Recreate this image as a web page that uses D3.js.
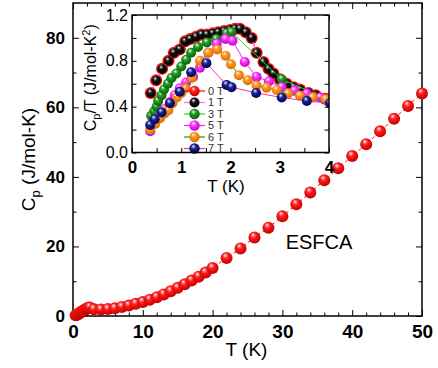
<!DOCTYPE html>
<html>
<head>
<meta charset="utf-8">
<script src="https://cdn.jsdelivr.net/npm/d3@7"></script>
<style>
  body { margin: 0; background: #fff; }
  text { font-family: "Liberation Sans", Arial, sans-serif; }
</style>
</head>
<body>
<div id="chart-area"></div>
<script>
const WIDTH = 438;
const HEIGHT = 368;
const MAIN = {left: 73, right: 422, top: 3, bottom: 316};
const INSET = {left: 132, right: 329, top: 15, bottom: 152.5};

// main panel: Cp vs T (zero field)
const mainT = [0.38, 0.49, 0.61, 0.74, 0.85, 0.97, 1.08, 1.18, 1.30, 1.41, 1.52, 1.64, 1.75, 1.87,
  1.99, 2.09, 2.19, 2.31, 2.45, 3, 4, 5, 6, 7, 8, 9, 10, 11, 12, 13, 14, 15, 16, 17, 18, 19, 20,
  22, 24, 26, 28, 30, 32, 34, 36, 38, 40, 42, 44, 46, 48, 50];
const mainCp = [0.20, 0.31, 0.45, 0.59, 0.74, 0.87, 1.05, 1.17, 1.31, 1.45, 1.57, 1.71, 1.84, 1.98,
  2.13, 2.26, 2.37, 2.43, 2.40, 1.95, 1.85, 2.0, 2.2, 2.6, 3.0, 3.5, 4.0, 4.7, 5.4, 6.2, 7.1, 8.1, 9.1, 10.2, 11.3, 12.5, 13.8,
  16.7, 19.4, 22.6, 25.4, 28.7, 32.1, 35.5, 39.0, 42.5, 46.0, 49.4, 53.1, 56.7, 60.4, 64.0];

const mainXTicks = [0, 10, 20, 30, 40, 50];
const mainYTicks = [0, 20, 40, 60, 80];
const insetXTicks = [0, 1, 2, 3, 4];
const insetYTicks = [0, 0.4, 0.8, 1.2];

// inset: Cp/T vs T for each field
const fieldLabels = ['0 T', '1 T', '3 T', '5 T', '6 T', '7 T'];

const t0T = [0.38, 0.49, 0.61, 0.74, 0.85, 0.97, 1.08, 1.18, 1.30, 1.41, 1.52, 1.64, 1.75, 1.87, 1.99,
  2.09, 2.19, 2.31, 2.43, 2.53, 2.67, 2.77, 2.87, 3.00, 3.14, 3.28, 3.41, 3.58, 3.73, 3.92, 4.05];
const cp0T = [0.52, 0.63, 0.73, 0.80, 0.87, 0.90, 0.97, 0.99, 1.01, 1.03, 1.03, 1.04, 1.05, 1.06, 1.07,
  1.08, 1.08, 1.05, 1.00, 0.87, 0.79, 0.73, 0.69, 0.64, 0.60, 0.57, 0.55, 0.52, 0.50, 0.47, 0.44];

const t1T = [0.38, 0.49, 0.61, 0.74, 0.85, 0.97, 1.08, 1.18, 1.30, 1.41, 1.52, 1.64, 1.75, 1.87, 1.99,
  2.09, 2.19, 2.31, 2.43, 2.53, 2.67, 2.77, 2.87, 3.00, 3.14, 3.28, 3.41, 3.58, 3.73, 3.92, 4.05];
const cp1T = [0.52, 0.63, 0.73, 0.80, 0.87, 0.90, 0.97, 0.99, 1.01, 1.03, 1.03, 1.04, 1.05, 1.06, 1.07,
  1.08, 1.08, 1.05, 1.00, 0.87, 0.79, 0.73, 0.69, 0.64, 0.60, 0.57, 0.55, 0.52, 0.50, 0.47, 0.44];

const t3T = [0.39, 0.45, 0.50, 0.53, 0.60, 0.65, 0.73, 0.80, 0.90, 1.00, 1.10, 1.20, 1.34, 1.52, 1.71,
  1.92, 2.02, 3.04, 4.05];
const cp3T = [0.32, 0.36, 0.40, 0.45, 0.50, 0.55, 0.60, 0.65, 0.69, 0.75, 0.81, 0.87, 0.92, 0.96, 0.99,
  1.04, 1.05, 0.64, 0.45];

const t5T = [0.37, 0.47, 0.57, 0.67, 0.77, 0.87, 0.97, 1.10, 1.24, 1.38, 1.55, 1.72, 1.90, 2.04, 2.29,
  2.53, 2.78, 3.04, 3.30, 3.55, 3.82];
const cp5T = [0.185, 0.26, 0.33, 0.38, 0.44, 0.50, 0.56, 0.61, 0.66, 0.74, 0.87, 0.95, 0.99, 0.975, 0.79,
  0.66, 0.62, 0.57, 0.54, 0.515, 0.48];

const t6T = [0.37, 0.47, 0.57, 0.66, 0.74, 0.82, 0.91, 1.00, 1.08, 1.21, 1.38, 1.55, 1.73, 1.90, 2.01,
  2.17, 2.35, 2.53, 2.73, 2.94, 3.17, 3.41, 3.67, 3.93];
const cp6T = [0.20, 0.25, 0.30, 0.34, 0.37, 0.43, 0.48, 0.52, 0.56, 0.65, 0.80, 0.87, 0.90, 0.845, 0.77,
  0.675, 0.63, 0.585, 0.565, 0.545, 0.515, 0.495, 0.48, 0.465];

const t7T = [0.37, 0.46, 0.60, 0.77, 0.97, 1.20, 1.51, 1.92, 2.02, 2.52, 3.04, 3.55, 4.02];
const cp7T = [0.24, 0.29, 0.35, 0.43, 0.53, 0.70, 0.78, 0.59, 0.57, 0.52, 0.48, 0.45, 0.43];

// marker fill, marker edge, connecting line
const STYLES = [
  {ball: '#ff1a1a', dark: '#c00000', line: '#ff0000', r: 6},
  {ball: '#111111', dark: '#000000', line: '#ff66ff', r: 4.6},
  {ball: '#1f9a1f', dark: '#0a5c0a', line: '#22dd22', r: 5},
  {ball: '#ff33ff', dark: '#c000c0', line: '#ff22ff', r: 5},
  {ball: '#ff9422', dark: '#d86a00', line: '#1a9a1a', r: 5},
  {ball: '#1a2290', dark: '#000050', line: '#ff3399', r: 5},
];

main();

function main() {
  const svg = d3.select('#chart-area').append('svg')
    .attr('width', WIDTH)
    .attr('height', HEIGHT);
  const defs = svg.append('defs');
  STYLES.forEach((s, i) => addBall(defs, `ball${ i }`, s.ball, s.dark));
  showMain(svg);
  showInset(svg, defs);
}

function addBall(defs, id, base, dark) {
  const g = defs.append('radialGradient')
    .attr('id', id)
    .attr('cx', '45%').attr('cy', '40%').attr('r', '62%')
    .attr('fx', '38%').attr('fy', '28%');
  g.append('stop').attr('offset', '0%').attr('stop-color', '#ffffff');
  g.append('stop').attr('offset', '18%').attr('stop-color', d3.interpolateRgb(base, '#fff')(0.45));
  g.append('stop').attr('offset', '40%').attr('stop-color', base);
  g.append('stop').attr('offset', '100%').attr('stop-color', dark);
}

function frameAxes(svg, box, x, y, opts) {
  const g = svg.append('g');
  const inner = opts.tick;
  const minor = opts.minorTick;

  const addAxis = (axis, transform, values, size, fmt, cls) => {
    const a = g.append('g')
      .attr('class', cls)
      .attr('transform', transform)
      .call(axis.tickValues(values).tickSize(-size).tickSizeOuter(0).tickFormat(fmt));
    a.select('.domain').remove();
    a.selectAll('line').attr('stroke', '#000').attr('stroke-width', 1);
    return a;
  };
  const none = () => '';

  const xb = addAxis(d3.axisBottom(x).tickPadding(opts.xPad), `translate(0,${ box.bottom })`, opts.xTicks, inner, opts.xFmt, 'x-axis');
  addAxis(d3.axisBottom(x), `translate(0,${ box.bottom })`, opts.xMinor, minor, none, 'x-minor');
  addAxis(d3.axisTop(x), `translate(0,${ box.top })`, opts.xTicks, inner, none, 'x-top');
  addAxis(d3.axisTop(x), `translate(0,${ box.top })`, opts.xMinor, minor, none, 'x-top-minor');
  const yl = addAxis(d3.axisLeft(y).tickPadding(opts.yPad), `translate(${ box.left },0)`, opts.yTicks, inner, opts.yFmt, 'y-axis');
  addAxis(d3.axisLeft(y), `translate(${ box.left },0)`, opts.yMinor, minor, none, 'y-minor');
  addAxis(d3.axisRight(y), `translate(${ box.right },0)`, opts.yTicks, inner, none, 'y-right');
  addAxis(d3.axisRight(y), `translate(${ box.right },0)`, opts.yMinor, minor, none, 'y-right-minor');

  xb.selectAll('text')
    .attr('fill', '#000')
    .style('font-size', opts.xFont + 'px')
    .style('font-weight', 'bold');
  yl.selectAll('text')
    .attr('fill', '#000')
    .style('font-size', opts.yFont + 'px')
    .style('font-weight', opts.yWeight);

  g.append('rect')
    .attr('x', box.left)
    .attr('y', box.top)
    .attr('width', box.right - box.left)
    .attr('height', box.bottom - box.top)
    .attr('fill', 'none')
    .attr('stroke', '#000')
    .attr('stroke-width', 1.5);
}

function showMain(svg) {
  const x = d3.scaleLinear().domain([0, 50]).range([MAIN.left, MAIN.right]);
  const y = d3.scaleLinear().domain([0, 90]).range([MAIN.bottom, MAIN.top]);

  frameAxes(svg, MAIN, x, y, {
    tick: 6, minorTick: 3.5,
    xTicks: mainXTicks, xMinor: d3.range(0, 51, 2).filter(v => v % 10),
    yTicks: mainYTicks, yMinor: [10, 30, 50, 70],
    xPad: 9, yPad: 8, xFont: 19, yFont: 17, yWeight: 'bold',
    xFmt: d3.format('d'), yFmt: d3.format('d'),
  });

  const data = mainT.map((t, i) => ({t, cp: mainCp[i]}));
  const line = d3.line().x(d => x(d.t)).y(d => y(d.cp));

  svg.append('path')
    .datum(data)
    .attr('d', line)
    .attr('fill', 'none')
    .attr('stroke', '#ff0000')
    .attr('stroke-width', 1)
    .attr('stroke-dasharray', '3,3');

  svg.append('g')
    .selectAll('circle')
    .data(data)
    .enter()
    .append('circle')
    .attr('cx', d => x(d.t))
    .attr('cy', d => y(d.cp))
    .attr('r', 6)
    .attr('fill', 'url(#ball0)');

  svg.append('text')
    .attr('x', (MAIN.left + MAIN.right) / 2 - 1)
    .attr('y', 356)
    .attr('text-anchor', 'middle')
    .style('font-size', '19px')
    .text('T (K)');

  const yl = svg.append('text')
    .attr('transform', `translate(35, ${ (MAIN.top + MAIN.bottom) / 2 }) rotate(-90)`)
    .attr('text-anchor', 'middle')
    .style('font-size', '19px');
  yl.append('tspan').text('C');
  yl.append('tspan').attr('dy', 5).style('font-size', '13px').text('p');
  yl.append('tspan').attr('dy', -5).text(' (J/mol-K)');

  svg.append('text')
    .attr('x', 319)
    .attr('y', 249)
    .attr('text-anchor', 'middle')
    .style('font-size', '20px')
    .text('ESFCA');
}

function showInset(svg, defs) {
  const x = d3.scaleLinear().domain([0, 4]).range([INSET.left, INSET.right]);
  const y = d3.scaleLinear().domain([0, 1.2]).range([INSET.bottom, INSET.top]);

  defs.append('clipPath')
    .attr('id', 'inset-clip')
    .append('rect')
    .attr('x', INSET.left)
    .attr('y', INSET.top)
    .attr('width', INSET.right - INSET.left)
    .attr('height', INSET.bottom - INSET.top);

  const series = [
    [t0T, cp0T], [t1T, cp1T], [t3T, cp3T], [t5T, cp5T], [t6T, cp6T], [t7T, cp7T],
  ].map(([ts, vs]) => ts.map((t, i) => ({t, v: vs[i]})));

  const plot = svg.append('g').attr('clip-path', 'url(#inset-clip)');
  const line = d3.line().x(d => x(d.t)).y(d => y(d.v));

  series.forEach((data, i) => {
    const s = STYLES[i];
    const g = plot.append('g');
    g.append('path')
      .datum(data)
      .attr('d', line)
      .attr('fill', 'none')
      .attr('stroke', s.line)
      .attr('stroke-width', 1);
    g.selectAll('circle')
      .data(data)
      .enter()
      .append('circle')
      .attr('cx', d => x(d.t))
      .attr('cy', d => y(d.v))
      .attr('r', s.r)
      .attr('fill', `url(#ball${ i })`);
  });

  // legend
  const legend = svg.append('g');
  fieldLabels.forEach((label, i) => {
    const s = STYLES[i];
    const ly = 91 + i * 11.5;
    legend.append('line')
      .attr('x1', 184).attr('x2', 205)
      .attr('y1', ly).attr('y2', ly)
      .attr('stroke', s.line)
      .attr('stroke-width', 1.2);
    legend.append('circle')
      .attr('cx', 194.5).attr('cy', ly)
      .attr('r', i === 1 ? 5 : 5.2)
      .attr('fill', `url(#ball${ i })`);
    legend.append('text')
      .attr('x', 208).attr('y', ly)
      .attr('dy', '0.36em')
      .attr('fill', '#333')
      .style('font-size', '11px')
      .text(label);
  });

  frameAxes(svg, INSET, x, y, {
    tick: 4.5, minorTick: 4.5,
    xTicks: insetXTicks, xMinor: [0.5, 1.5, 2.5, 3.5],
    yTicks: insetYTicks, yMinor: [0.2, 0.6, 1.0],
    xPad: 8, yPad: 4, xFont: 17, yFont: 16, yWeight: 'normal',
    xFmt: d3.format('d'), yFmt: d3.format('.1f'),
  });

  svg.append('text')
    .attr('x', 226)
    .attr('y', 192)
    .attr('text-anchor', 'middle')
    .style('font-size', '17px')
    .text('T (K)');

  const yl = svg.append('text')
    .attr('transform', `translate(96, ${ (INSET.top + INSET.bottom) / 2 - 6 }) rotate(-90)`)
    .attr('text-anchor', 'middle')
    .style('font-size', '16px');
  yl.append('tspan').text('C');
  yl.append('tspan').attr('dy', 4).style('font-size', '11px').text('p');
  yl.append('tspan').attr('dy', -4).text('/T (J/mol-K');
  yl.append('tspan').attr('dy', -6).style('font-size', '11px').text('2');
  yl.append('tspan').attr('dy', 6).text(')');
}
</script>
</body>
</html>
